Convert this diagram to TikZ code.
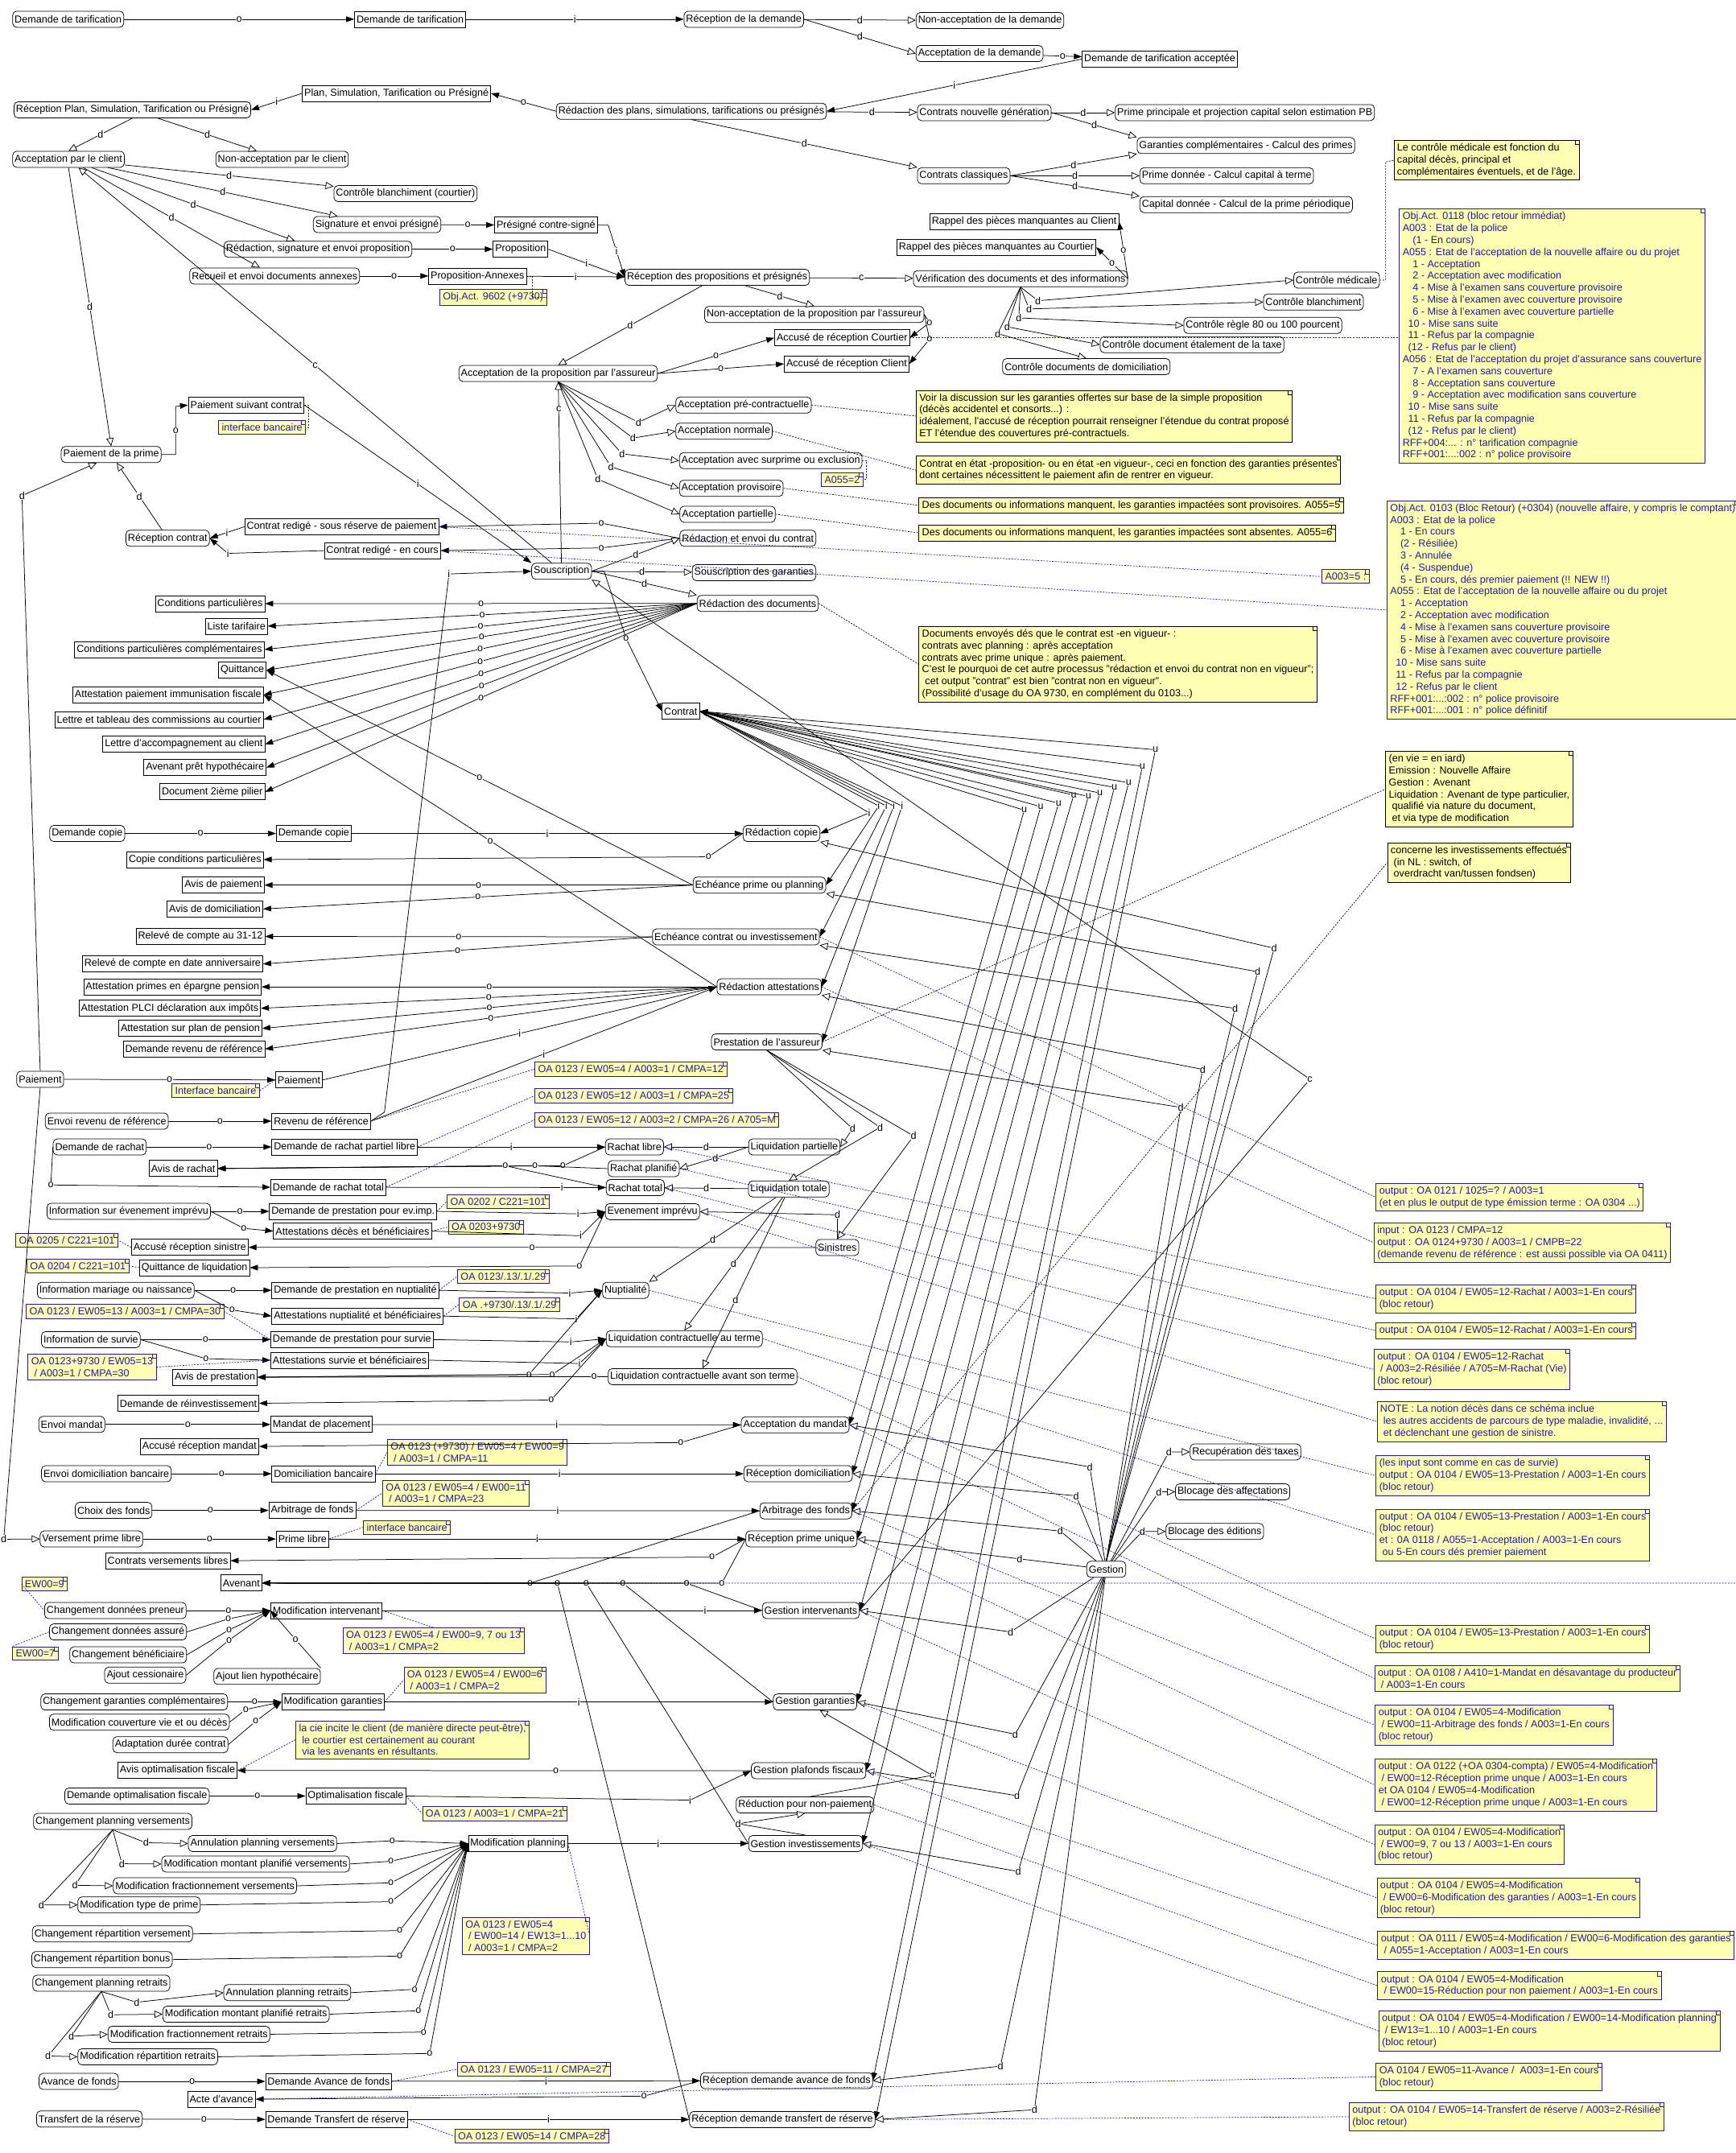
\documentclass[tikz,border=0pt]{standalone}
\usepackage{fontspec}
\setmainfont{Liberation Sans}
\usetikzlibrary{arrows.meta}
\definecolor{notey}{HTML}{FFFFB4}
\definecolor{noteb}{HTML}{1E1E9C}
\definecolor{linkb}{HTML}{1818B8}
\newcommand\ia{\hspace*{1em}}
\newcommand\ib{\hspace*{0.55em}}
\newcommand\ic{\hspace*{0.3em}}

\begin{document}
\begin{tikzpicture}[x=1.7065pt,y=-1.7065pt,line width=0.75pt,
  font=\fontsize{12.6}{14.8}\selectfont,
  proc/.style={draw,rounded corners=5pt,fill=white,inner xsep=2.5pt,inner ysep=0pt,minimum height=20pt,anchor=west},
  docu/.style={draw,fill=white,inner xsep=2.5pt,inner ysep=0pt,minimum height=20pt,anchor=west},
  docr/.style={docu,anchor=east},
  bluenote/.style={draw=noteb,fill=notey,text=noteb,align=left,anchor=north west,inner xsep=4pt,inner ysep=4pt,
    path picture={\draw[noteb,line width=0.6pt] ([xshift=-5pt]path picture bounding box.north east) -- ++(0,-5pt) -- ++(5pt,0);}},
  blacknote/.style={draw=black,fill=notey,text=black,align=left,anchor=north west,inner xsep=4pt,inner ysep=4pt,
    path picture={\draw[line width=0.6pt] ([xshift=-5pt]path picture bounding box.north east) -- ++(0,-5pt) -- ++(5pt,0);}},
  oflow/.style={-{Triangle[length=10pt,width=7pt]}},
  uflow/.style={{Triangle[length=10pt,width=7pt]}-{Triangle[length=10pt,width=7pt]}},
  dflow/.style={-{Triangle[open,length=10pt,width=9pt,fill=white]}},
  blink/.style={linkb,dash pattern=on 2pt off 1.6pt,line width=0.7pt},
  klink/.style={black,dash pattern=on 2pt off 1.6pt,line width=0.7pt},
  lbl/.style={fill=white,inner sep=0.4pt}]
  \path[use as bounding box,fill=white] (0,0) rectangle (1264,1568);

  \node[proc] (dtA) at (9,14) {Demande de tarification};
  \node[docu] (dtB) at (258,14) {Demande de tarification};
  \node[proc] (recdem) at (498,14) {Réception de la demande};
  \node[proc] (nonaccdem) at (667,15) {Non-acceptation de la demande};
  \node[proc] (accdem) at (667,39) {Acceptation de la demande};
  \node[docu] (dtacc) at (788,43) {Demande de tarification acceptée};
  \node[docu] (plan) at (220,68) {Plan, Simulation, Tarification ou Présigné};
  \node[proc] (recplan) at (10,80) {Réception Plan, Simulation, Tarification ou Présigné};
  \node[proc] (redplans) at (405,81) {Rédaction des plans, simulations, tarifications ou présignés};
  \node[proc] (cng) at (668,82) {Contrats nouvelle génération};
  \node[proc] (primepp) at (812,82) {Prime principale et projection capital selon estimation PB};
  \node[proc] (garcomp) at (828,106) {Garanties complémentaires - Calcul des primes};
  \node[proc] (ccl) at (668,128) {Contrats classiques};
  \node[proc] (primed) at (830,128) {Prime donnée - Calcul capital à terme};
  \node[proc] (capd) at (830,149) {Capital donnée - Calcul de la prime périodique};
  \node[proc] (acccli) at (9,116) {Acceptation par le client};
  \node[proc] (nonacccli) at (157,116) {Non-acceptation par le client};
  \node[proc] (ctrlbl) at (243,141) {Contrôle blanchiment (courtier)};
  \node[proc] (sigpres) at (228,163.5) {Signature et envoi présigné};
  \node[docu] (prescs) at (360,164) {Présigné contre-signé};
  \node[proc] (redsig) at (163,181.5) {Rédaction, signature et envoi proposition};
  \node[docu] (prop) at (359,181.5) {Proposition};
  \node[proc] (recueil) at (138,201) {Recueil et envoi documents annexes};
  \node[docu] (propann) at (312,201) {Proposition-Annexes};
  \node[bluenote] (n9602) at (320,210.5) {Obj.Act. 9602 (+9730)};
  \node[proc] (recprops) at (455,202) {Réception des propositions et présignés};
  \node[proc] (verif) at (665,203) {Vérification des documents et des informations};
  \node[docu] (rappcli) at (677,161.5) {Rappel des pièces manquantes au Client};
  \node[docu] (rappcour) at (653,180) {Rappel des pièces manquantes au Courtier};
  \node[proc] (nonaccass) at (513,229) {Non-acceptation de la proposition par l'assureur};
  \node[docu] (arcourt) at (564,246) {Accusé de réception Courtier};
  \node[docu] (arcli) at (571,265) {Accusé de réception Client};
  \node[proc] (accass) at (334,272) {Acceptation de la proposition par l'assureur};
  \node[proc] (ctrlmed) at (942,204) {Contrôle médicale};
  \node[proc] (ctrlbl2) at (920,220) {Contrôle blanchiment};
  \node[proc] (ctrl80) at (862,237) {Contrôle règle 80 ou 100 pourcent};
  \node[proc] (ctrltaxe) at (801,251) {Contrôle document étalement de la taxe};
  \node[proc] (ctrldom) at (730,267) {Contrôle documents de domiciliation};
  \node[blacknote] (nmed) at (1015,102) {Le contrôle médicale est fonction du\\capital décès, principal et\\complémentaires éventuels, et de l'âge.};
  \node[bluenote] (n0118) at (1019,152) {Obj.Act. 0118 (bloc retour immédiat)\\A003 : Etat de la police\\\ia(1 - En cours)\\A055 : Etat de l'acceptation de la nouvelle affaire ou du projet\\\ia 1 - Acceptation\\\ia 2 - Acceptation avec modification\\\ia 4 - Mise à l'examen sans couverture provisoire\\\ia 5 - Mise à l'examen avec couverture provisoire\\\ia 6 - Mise à l'examen avec couverture partielle\\\ib 10 - Mise sans suite\\\ib 11 - Refus par la compagnie\\\ib(12 - Refus par le client)\\A056 : Etat de l'acceptation du projet d'assurance sans couverture\\\ia 7 - A l'examen sans couverture\\\ia 8 - Acceptation sans couverture\\\ia 9 - Acceptation avec modification sans couverture\\\ib 10 - Mise sans suite\\\ib 11 - Refus par la compagnie\\\ib(12 - Refus par le client)\\RFF+004:... : n° tarification compagnie\\RFF+001:...:002 : n° police provisoire};
  \node[proc] (accprec) at (492,295) {Acceptation pré-contractuelle};
  \node[proc] (accnorm) at (492,314) {Acceptation normale};
  \node[proc] (accsurp) at (494.6,335.5) {Acceptation avec surprime ou exclusion};
  \node[proc] (accprov) at (494.6,355.6) {Acceptation provisoire};
  \node[proc] (accpart) at (495,374.5) {Acceptation partielle};
  \node[bluenote] (a0552) at (598,344) {A055=2};
  \node[blacknote] (nvoir) at (667,284) {Voir la discussion sur les garanties offertes sur base de la simple proposition\\(décès accidentel et consorts...) :\\idéalement, l'accusé de réception pourrait renseigner l'étendue du contrat proposé\\ET l'étendue des couvertures pré-contractuels.};
  \node[blacknote] (ncontrat) at (667,332) {Contrat en état -proposition- ou en état -en vigueur-, ceci en fonction des garanties présentes\\dont certaines nécessittent le paiement afin de rentrer en vigueur.};
  \node[blacknote] (nprov) at (669,362) {Des documents ou informations manquent, les garanties impactées sont provisoires. A055=5};
  \node[blacknote] (nabs) at (669,382) {Des documents ou informations manquent, les garanties impactées sont absentes. A055=6};

  \node[proc] (paiprime) at (44.4,331) {Paiement de la prime};
  \node[docu] (paisuiv) at (137,295) {Paiement suivant contrat};
  \node[bluenote] (ib1) at (159,306) {interface bancaire};
  \node[proc] (reccontrat) at (91.5,392) {Réception contrat};
  \node[docu] (crsous) at (178,383.6) {Contrat redigé - sous réserve de paiement};
  \node[docu] (crcours) at (236,401) {Contrat redigé - en cours};
  \node[proc] (souscr) at (387,416) {Souscription};
  \node[proc] (redenv) at (495,392) {Rédaction et envoi du contrat};
  \node[proc] (sousgar) at (504,417) {Souscription des garanties};
  \node[proc] (reddocs) at (507.5,439.5) {Rédaction des documents};
  \node[docu] (contrat) at (482,518) {Contrat};
  \node[bluenote] (a0035) at (962.6,414.7) {A003=5 :};
  \node[bluenote] (n0103) at (1010,364.5) {Obj.Act. 0103 (Bloc Retour) (+0304) (nouvelle affaire, y compris le comptant)\\A003 : Etat de la police\\\ia 1 - En cours\\\ia(2 - Résiliée)\\\ia 3 - Annulée\\\ia(4 - Suspendue)\\\ia 5 - En cours, dés premier paiement (!! NEW !!)\\A055 : Etat de l'acceptation de la nouvelle affaire ou du projet\\\ia 1 - Acceptation\\\ia 2 - Acceptation avec modification\\\ia 4 - Mise à l'examen sans couverture provisoire\\\ia 5 - Mise à l'examen avec couverture provisoire\\\ia 6 - Mise à l'examen avec couverture partielle\\\ib 10 - Mise sans suite\\\ib 11 - Refus par la compagnie\\\ib 12 - Refus par le client\\RFF+001:...:002 : n° police provisoire\\RFF+001:...:001 : n° police définitif};
  \node[blacknote] (ndocs) at (669,456) {Documents envoyés dés que le contrat est -en vigueur- :\\contrats avec planning : après acceptation\\contrats avec prime unique : après paiement.\\C'est le pourquoi de cet autre processus "rédaction et envoi du contrat non en vigueur";\\\ic cet output "contrat" est bien "contrat non en vigueur".\\(Possibilité d'usage du OA 9730, en complément du 0103...)};

  \node[docr] (condpart) at (193,439.6) {Conditions particulières};
  \node[docr] (listetar) at (195,456) {Liste tarifaire};
  \node[docr] (condcomp) at (192.6,473) {Conditions particulières complémentaires};
  \node[docr] (quitt) at (194,488) {Quittance};
  \node[docr] (attimmu) at (192,506) {Attestation paiement immunisation fiscale};
  \node[docr] (lettrecom) at (192,524) {Lettre et tableau des commissions au courtier};
  \node[docr] (lettreacc) at (193,542) {Lettre d'accompagnement au client};
  \node[docr] (avpret) at (194,559) {Avenant prêt hypothécaire};
  \node[docr] (doc2p) at (193,576.7) {Document 2ième pilier};
  \node[proc] (dcopA) at (36,607) {Demande copie};
  \node[docu] (dcopB) at (201,607) {Demande copie};
  \node[proc] (redcopie) at (541,607) {Rédaction copie};
  \node[docr] (copiecp) at (192,626) {Copie conditions particulières};
  \node[docr] (avispai) at (192.6,644.6) {Avis de paiement};
  \node[docr] (avisdom) at (191.6,662) {Avis de domiciliation};
  \node[docr] (rel3112) at (193,682) {Relevé de compte au 31-12};
  \node[docr] (relanniv) at (191.6,702) {Relevé de compte en date anniversaire};
  \node[docr] (attepargne) at (190.5,718.7) {Attestation primes en épargne pension};
  \node[docr] (attplci) at (190,734.3) {Attestation PLCI déclaration aux impôts};
  \node[docr] (attplan) at (191,749) {Attestation sur plan de pension};
  \node[docr] (demrevref) at (193,764) {Demande revenu de référence};
  \node[proc] (echprime) at (504.6,644.6) {Echéance prime ou planning};
  \node[proc] (echcontrat) at (475,682.3) {Echéance contrat ou investissement};
  \node[proc] (redatt) at (522,718.7) {Rédaction attestations};
  \node[proc] (prest) at (518,758.8) {Prestation de l'assureur};
  \node[blacknote] (nvie) at (1009,547) {(en vie = en iard)\\Emission : Nouvelle Affaire\\Gestion : Avenant\\Liquidation : Avenant de type particulier,\\\ic qualifié via nature du document,\\\ic et via type de modification};
  \node[blacknote] (ninv) at (1010.3,613.5) {concerne les investissements effectués\\\ic (in NL : switch, of\\\ic overdracht van/tussen fondsen)};

  \node[proc] (paiement) at (12,786) {Paiement};
  \node[docu] (paiementr) at (200.5,786.5) {Paiement};
  \node[bluenote] (ib2) at (125,789) {Interface bancaire};
  \node[proc] (envrevref) at (32.8,816.5) {Envoi revenu de référence};
  \node[docu] (revref) at (197.8,816.5) {Revenu de référence};
  \node[bluenote] (oaA) at (389.3,773.3) {OA 0123 / EW05=4 / A003=1 / CMPA=12};
  \node[bluenote] (oaB) at (389.3,792.7) {OA 0123 / EW05=12 / A003=1 / CMPA=25};
  \node[bluenote] (oaC) at (389.3,810.3) {OA 0123 / EW05=12 / A003=2 / CMPA=26 / A705=M};
  \node[proc] (demrachat) at (38.5,835.3) {Demande de rachat};
  \node[docu] (demrpl) at (197.8,835.3) {Demande de rachat partiel libre};
  \node[docu] (avisrachat) at (108.4,851) {Avis de rachat};
  \node[docu] (demrtot) at (197,864.6) {Demande de rachat total};
  \node[proc] (infoevt) at (34,882.2) {Information sur évenement imprévu};
  \node[docu] (dempevt) at (196,882.2) {Demande de prestation pour ev.imp.};
  \node[bluenote] (oa0202) at (325.5,869.8) {OA 0202 / C221=101};
  \node[docu] (attdeces) at (199,896.6) {Attestations décès et bénéficiaires};
  \node[bluenote] (oa0203) at (326.4,888.4) {OA 0203+9730};
  \node[bluenote] (oa0205) at (11.3,898) {OA 0205 / C221=101};
  \node[docu] (accsin) at (95.5,908.4) {Accusé réception sinistre};
  \node[bluenote] (oa0204) at (19.4,916.7) {OA 0204 / C221=101};
  \node[docu] (quittliq) at (101.4,923.2) {Quittance de liquidation};
  \node[proc] (infomar) at (27,939.7) {Information mariage ou naissance};
  \node[docu] (dempnup) at (197.8,939.7) {Demande de prestation en nuptialité};
  \node[bluenote] (oa0123a) at (333,924.2) {OA 0123/.13/.1/.29};
  \node[bluenote] (oa0123b) at (18.9,949.8) {OA 0123 / EW05=13 / A003=1 / CMPA=30};
  \node[docu] (attnup) at (197.8,958.5) {Attestations nuptialité et bénéficiaires};
  \node[bluenote] (oa9730) at (334.4,944.6) {OA .+9730/.13/.1/.29};
  \node[proc] (infosurv) at (30,975.6) {Information de survie};
  \node[docu] (dempsurv) at (197,975.6) {Demande de prestation pour survie};
  \node[docu] (attsurv) at (197,990.6) {Attestations survie et bénéficiaires};
  \node[bluenote] (oa0123c) at (20.2,986) {OA 0123+9730 / EW05=13\\\ic/ A003=1 / CMPA=30};
  \node[docu] (avisprest) at (125.6,1003) {Avis de prestation};
  \node[docu] (demreinv) at (85.6,1022) {Demande de réinvestissement};
  \node[proc] (envmandat) at (28,1037.4) {Envoi mandat};
  \node[docu] (mandat) at (197,1037.4) {Mandat de placement};
  \node[docu] (arman) at (102,1053.4) {Accusé réception mandat};
  \node[bluenote] (oa0123d) at (282,1048.2) {OA 0123 (+9730) / EW05=4 / EW00=9\\\ic/ A003=1 / CMPA=11};
  \node[proc] (envdom) at (30,1073.3) {Envoi domiciliation bancaire};
  \node[docu] (domban) at (197.8,1073.3) {Domiciliation bancaire};
  \node[bluenote] (oa0123e) at (278.5,1077.7) {OA 0123 / EW05=4 / EW00=11\\\ic/ A003=1 / CMPA=23};
  \node[proc] (choixf) at (54.6,1100) {Choix des fonds};
  \node[docu] (arbf) at (195.6,1100) {Arbitrage de fonds};
  \node[proc] (versprime) at (29,1120.8) {Versement prime libre};
  \node[docu] (primelib) at (201,1120.8) {Prime libre};
  \node[bluenote] (ib3) at (264.5,1107) {interface bancaire};
  \node[docu] (contvers) at (76.7,1136.6) {Contrats versements libres};
  \node[docu] (avenant) at (160.6,1152.9) {Avenant};
  \node[bluenote] (ew009) at (15.6,1148.4) {EW00=9};
  \node[proc] (chpreneur) at (32.3,1172.9) {Changement données preneur};
  \node[docu] (modint) at (197,1172.9) {Modification intervenant};
  \node[proc] (chassure) at (35.8,1188.5) {Changement données assuré};
  \node[bluenote] (ew007) at (8.9,1199) {EW00=7};
  \node[proc] (chbenef) at (50.6,1205.2) {Changement bénéficiaire};
  \node[proc] (ajcess) at (76,1220) {Ajout cessionaire};
  \node[proc] (ajlien) at (155.5,1220.9) {Ajout lien hypothécaire};
  \node[bluenote] (oaE) at (249.6,1185.3) {OA 0123 / EW05=4 / EW00=9, 7 ou 13\\\ic/ A003=1 / CMPA=2};
  \node[proc] (chgarcomp) at (29.6,1239.5) {Changement garanties complémentaires};
  \node[docu] (modgar) at (205,1239.5) {Modification garanties};
  \node[bluenote] (oaF) at (294,1213.9) {OA 0123 / EW05=4 / EW00=6\\\ic/ A003=1 / CMPA=2};
  \node[proc] (modcouv) at (35.8,1254.2) {Modification couverture vie et ou décès};
  \node[proc] (adaptduree) at (82,1270.6) {Adaptation durée contrat};
  \node[bluenote] (ncie) at (215.2,1253) {la cie incite le client (de manière directe peut-être),\\\ic le courtier est certainement au courant\\\ic via les avenants en résultants.};
  \node[docu] (avisopt) at (85.6,1289.4) {Avis optimalisation fiscale};
  \node[proc] (demopt) at (47,1308) {Demande optimalisation fiscale};
  \node[docu] (optfisc) at (222.5,1308) {Optimalisation fiscale};
  \node[bluenote] (oaG) at (307.5,1315.5) {OA 0123 / A003=1 / CMPA=21};
  \node[proc] (chplanv) at (24.2,1326.5) {Changement planning versements};
  \node[proc] (annplanv) at (137,1342.6) {Annulation planning versements};
  \node[docu] (modplan) at (340.9,1342.6) {Modification planning};
  \node[proc] (modmontv) at (117.6,1357.5) {Modification montant planifié versements};
  \node[proc] (modfracv) at (82.3,1373.4) {Modification fractionnement versements};
  \node[proc] (modtype) at (56.5,1387.3) {Modification type de prime};
  \node[proc] (chrepv) at (23.4,1408.4) {Changement répartition versement};
  \node[proc] (chrepb) at (22.9,1427.1) {Changement répartition bonus};
  \node[proc] (chplanr) at (23.7,1444.3) {Changement planning retraits};
  \node[proc] (annplanr) at (162.8,1451.2) {Annulation planning retraits};
  \node[proc] (modmontr) at (118.4,1466.9) {Modification montant planifié retraits};
  \node[proc] (modfracr) at (78.5,1481.5) {Modification fractionnement retraits};
  \node[proc] (modrepr) at (56.5,1497.9) {Modification répartition retraits};
  \node[bluenote] (oaH) at (336.4,1396) {OA 0123 / EW05=4\\\ic/ EW00=14 / EW13=1...10\\\ic/ A003=1 / CMPA=2};
  \node[proc] (avfonds) at (28.2,1515.8) {Avance de fonds};
  \node[docu] (demavance) at (193.2,1515.8) {Demande Avance de fonds};
  \node[bluenote] (oaI) at (332.8,1501.7) {OA 0123 / EW05=11 / CMPA=27};
  \node[docu] (acteav) at (136.4,1528.8) {Acte d'avance};
  \node[proc] (transres) at (26.4,1543.2) {Transfert de la réserve};
  \node[docu] (demtrans) at (193.2,1543.6) {Demande Transfert de réserve};
  \node[bluenote] (oaJ) at (331,1550.5) {OA 0123 / EW05=14 / CMPA=28};

  \node[proc] (rachlib) at (440.7,835.3) {Rachat libre};
  \node[proc] (liqpart) at (545,835.3) {Liquidation partielle};
  \node[proc] (rachplan) at (442.7,851.1) {Rachat planifié};
  \node[proc] (rachtot) at (441.3,864.9) {Rachat total};
  \node[proc] (liqtot) at (544.9,865.9) {Liquidation totale};
  \node[proc] (evtimp) at (440.7,882.4) {Evenement imprévu};
  \node[proc] (sinistres) at (594,908.5) {Sinistres};
  \node[proc] (nuptial) at (438.6,939.7) {Nuptialité};
  \node[proc] (liqterme) at (441.3,975) {Liquidation contractuelle au terme};
  \node[proc] (liqavant) at (442.7,1002.6) {Liquidation contractuelle avant son terme};
  \node[proc] (accman) at (539.7,1037.7) {Acceptation du mandat};
  \node[proc] (recdom) at (541.6,1073.3) {Réception domiciliation};
  \node[proc] (arbdes) at (553.2,1100.3) {Arbitrage des fonds};
  \node[proc] (recprime) at (543,1120.8) {Réception prime unique};
  \node[proc] (gestion) at (791.3,1142.9) {Gestion};
  \node[proc] (gestint) at (555,1172.9) {Gestion intervenants};
  \node[proc] (gestgar) at (563,1239.5) {Gestion garanties};
  \node[proc] (gestplaf) at (547,1289.6) {Gestion plafonds fiscaux};
  \node[proc] (reduc) at (536,1314.5) {Réduction pour non-paiement};
  \node[proc] (gestinv) at (545,1342.6) {Gestion investissements};
  \node[proc] (recavance) at (510,1515.3) {Réception demande avance de fonds};
  \node[proc] (rectrans) at (502,1543.6) {Réception demande transfert de réserve};
  \node[proc] (recup) at (866.6,1057.4) {Recupération des taxes};
  \node[proc] (blocaff) at (855.9,1086.5) {Blocage des affectations};
  \node[proc] (blocedit) at (849,1115.3) {Blocage des éditions};

  \node[bluenote] (o184) at (1002,861.6) {output : OA 0121 / 1025=? / A003=1\\(et en plus le output de type émission terme : OA 0304 ...)};
  \node[bluenote] (o185) at (1000.6,890.4) {input : OA 0123 / CMPA=12\\output : OA 0124+9730 / A003=1 / CMPB=22\\(demande revenu de référence : est aussi possible via OA 0411)};
  \node[bluenote] (o186) at (1002,935.5) {output : OA 0104 / EW05=12-Rachat / A003=1-En cours\\(bloc retour)};
  \node[bluenote] (o187) at (1002,963) {output : OA 0104 / EW05=12-Rachat / A003=1-En cours};
  \node[bluenote] (o188) at (1000.6,982.6) {output : OA 0104 / EW05=12-Rachat\\\ic/ A003=2-Résiliée / A705=M-Rachat (Vie)\\(bloc retour)};
  \node[bluenote] (o189) at (1002.7,1020.6) {NOTE : La notion décès dans ce schéma inclue\\\ic les autres accidents de parcours de type maladie, invalidité, ...\\\ic et déclenchant une gestion de sinistre.};
  \node[bluenote] (o190) at (1002,1060) {(les input sont comme en cas de survie)\\output : OA 0104 / EW05=13-Prestation / A003=1-En cours\\(bloc retour)};
  \node[bluenote] (o191) at (1002,1098.8) {output : OA 0104 / EW05=13-Prestation / A003=1-En cours\\(bloc retour)\\et : 0A 0118 / A055=1-Acceptation / A003=1-En cours\\\ic ou 5-En cours dés premier paiement};
  \node[bluenote] (o192) at (1002,1183.3) {output : OA 0104 / EW05=13-Prestation / A003=1-En cours\\(bloc retour)};
  \node[bluenote] (o193) at (1001,1212.7) {output : OA 0108 / A410=1-Mandat en désavantage du producteur\\\ic/ A003=1-En cours};
  \node[bluenote] (o194) at (1001.4,1241.7) {output : OA 0104 / EW05=4-Modification\\\ic/ EW00=11-Arbitrage des fonds / A003=1-En cours\\(bloc retour)};
  \node[bluenote] (o195) at (1001.4,1281) {output : OA 0122 (+OA 0304-compta) / EW05=4-Modification\\\ic/ EW00=12-Réception prime unque / A003=1-En cours\\et OA 0104 / EW05=4-Modification\\\ic/ EW00=12-Réception prime unque / A003=1-En cours};
  \node[bluenote] (o196) at (1001,1328.7) {output : OA 0104 / EW05=4-Modification\\\ic/ EW00=9, 7 ou 13 / A003=1-En cours\\(bloc retour)};
  \node[bluenote] (o197) at (1002.7,1367.5) {output : OA 0104 / EW05=4-Modification\\\ic/ EW00=6-Modification des garanties / A003=1-En cours\\(bloc retour)};
  \node[bluenote] (o198) at (1003.2,1406.4) {output : OA 0111 / EW05=4-Modification / EW00=6-Modification des garanties\\\ic/ A055=1-Acceptation / A003=1-En cours};
  \node[bluenote] (o199) at (1003.2,1435.8) {output : OA 0104 / EW05=4-Modification\\\ic/ EW00=15-Réduction pour non paiement / A003=1-En cours};
  \node[bluenote] (o200) at (1004,1464.4) {output : OA 0104 / EW05=4-Modification / EW00=14-Modification planning\\\ic/ EW13=1...10 / A003=1-En cours\\(bloc retour)};
  \node[bluenote] (o201) at (1002,1502.2) {OA 0104 / EW05=11-Avance /\ \ A003=1-En cours\\(bloc retour)};
  \node[bluenote] (o202) at (982.4,1531.2) {output : OA 0104 / EW05=14-Transfert de réserve / A003=2-Résiliée\\(bloc retour)};
  \coordinate (avend) at (1264,1153);

  \draw[oflow] (dtA) -- node[lbl]{o} (dtB);
  \draw[oflow] (dtB) -- node[lbl]{i} (recdem);
  \draw[dflow] (recdem) -- node[lbl]{d} (nonaccdem);
  \draw[dflow] (recdem.east) -- node[lbl]{d} (accdem.west);
  \draw[oflow] (accdem) -- node[lbl]{o} (dtacc);
  \draw[oflow] (dtacc.west) -- node[lbl]{i} (redplans.east);
  \draw[oflow] (redplans.west) -- node[lbl]{o} (plan.east);
  \draw[oflow] (plan.west) -- node[lbl]{i} (recplan.east);
  \draw[dflow] (redplans) -- node[lbl]{d} (cng);
  \draw[dflow] (redplans.south) -- node[lbl]{d} (ccl.north west);
  \draw[dflow] (cng) -- node[lbl]{d} (primepp);
  \draw[dflow] (cng.east) -- node[lbl]{d} (garcomp.north west);
  \draw[dflow] (ccl.east) -- node[lbl]{d} (garcomp.south west);
  \draw[dflow] (ccl) -- node[lbl]{d} (primed);
  \draw[dflow] (ccl.east) -- node[lbl]{d} (capd.north west);
  \draw[dflow] (recplan.south) -- node[lbl]{d} (acccli.north);
  \draw[dflow] (recplan) -- node[lbl]{d} (nonacccli);
  \draw[dflow] (acccli) -- node[lbl]{d} (ctrlbl);
  \draw[dflow] (acccli) -- node[lbl]{d} (sigpres);
  \draw[dflow] (acccli) -- node[lbl]{d} (redsig);
  \draw[dflow] (acccli) -- node[lbl]{d} (recueil);
  \draw[dflow] (acccli.south) -- node[lbl]{d} (paiprime.north);
  \draw[oflow] (sigpres) -- node[lbl]{o} (prescs);
  \draw[oflow] (redsig) -- node[lbl]{o} (prop);
  \draw[oflow] (recueil) -- node[lbl]{o} (propann);
  \draw[blink] (propann.east) -- ++(4,0) |- (n9602.east);
  \draw[oflow] (prescs.east) -- (443,164) -- node[lbl]{i} (recprops.west);
  \draw[oflow] (prop.east) -- node[lbl]{i} (recprops.west);
  \draw[oflow] (propann) -- node[lbl]{i} (recprops);
  \draw[dflow] (recprops) -- node[lbl]{c} (verif);
  \draw[oflow] (verif.east) -- node[lbl]{o} (rappcli.east);
  \draw[oflow] (verif.east) -- node[lbl]{o} (rappcour.east);
  \draw[dflow] (recprops) -- node[lbl]{d} (nonaccass.north);
  \draw[dflow] (recprops) -- node[lbl]{d} (accass.north);
  \draw[oflow] (accass.east) -- node[lbl]{o} (arcourt.west);
  \draw[oflow] (accass.east) -- node[lbl]{o} (arcli.west);
  \draw[oflow] (nonaccass.east) -- (677,235) node[lbl]{o} -- (arcourt.east);
  \draw[oflow] (nonaccass.east) -- (677,247) node[lbl]{o} -- (arcli.east);
  \draw[blink] (arcourt.east) -- (n0118.west |- arcourt.east);
  \draw[dflow] (verif.south) -- (756,219) node[lbl]{d} -- (ctrlmed.west);
  \draw[dflow] (verif.south) -- (749.5,225) node[lbl]{d} -- (ctrlbl2.west);
  \draw[dflow] (verif.south) -- (742,231.5) node[lbl]{d} -- (ctrl80.west);
  \draw[dflow] (verif.south) -- (733.5,238) node[lbl]{d} -- (ctrltaxe.west);
  \draw[dflow] (verif.south) -- (726.6,243) node[lbl]{d} -- (ctrldom.north);
  \draw[klink] (ctrlmed.east) -- (1009,204) -- (1009,118) -- (nmed.west);
  \draw[dflow] (accass.south) -- (465,307.5) node[lbl]{d} -- (accprec.west);
  \draw[dflow] (accass.south) -- (461,319) node[lbl]{d} -- (accnorm.west);
  \draw[dflow] (accass.south) -- (453,330.5) node[lbl]{d} -- (accsurp.west);
  \draw[dflow] (accass.south) -- (445,340) node[lbl]{d} -- (accprov.west);
  \draw[dflow] (accass.south) -- (435.5,349) node[lbl]{d} -- (accpart.west);
  \draw[klink] (accprec.east) -- (nvoir.west);
  \draw[klink] (accnorm.east) -- (ncontrat.west);
  \draw[blink] (accsurp.east) -- ++(3,0) |- (a0552.east);
  \draw[klink] (accprov.east) -- (nprov.west);
  \draw[klink] (accpart.east) -- (nabs.west);
  \draw[dflow] (souscr) -- node[lbl,pos=0.85]{c} (accass);
  \draw[dflow] (souscr) -- node[lbl]{c} (acccli);

  \draw[oflow] (paiprime.east) -- (128,331) -- node[lbl]{o} (128,296) -- (paisuiv.west);
  \draw[blink] (paisuiv.east) -- ++(3,0) |- (ib1.east);
  \draw[oflow] (paisuiv.east) -- node[lbl]{i} (souscr.north west);
  \draw[dflow] (reccontrat) -- node[lbl]{d} (paiprime);
  \draw[dflow] (paiement.north) -- (16,361) node[lbl]{d} -- (paiprime.-150);
  \draw[dflow] (paiement.south) -- (2.7,1121) node[lbl]{d} -- (versprime.west);
  \draw[oflow] (redenv.west) -- (438,381) node[lbl]{o} -- (crsous.east);
  \draw[oflow] (redenv.west) -- (438,399) node[lbl]{o} -- (crcours.east);
  \draw[oflow] (crsous.west) -- node[lbl]{i} (reccontrat.east);
  \draw[oflow] (crcours.west) -- (166,403) node[lbl]{i} -- (reccontrat.east);
  \draw[blink] (crsous.east) -- (a0035.west);
  \draw[blink] (crcours.east) -- (n0103.west);
  \draw[dflow] (souscr.east) -- node[lbl]{d} (redenv.west);
  \draw[dflow] (souscr) -- node[lbl]{d} (sousgar);
  \draw[dflow] (souscr.east) -- node[lbl]{d} (reddocs.north west);
  \draw[oflow] (souscr.east) -- (440,416) -- (456,465) node[lbl]{o} -- (contrat.west);
  \draw[klink] (reddocs.east) -- (ndocs.west);
  \draw[oflow] (reddocs.west) -- node[lbl]{o} (condpart.east);
  \draw[oflow] (reddocs.west) -- node[lbl]{o} (listetar.east);
  \draw[oflow] (reddocs.west) -- node[lbl]{o} (condcomp.east);
  \draw[oflow] (reddocs.west) -- node[lbl]{o} (quitt.east);
  \draw[oflow] (reddocs.west) -- node[lbl]{o} (attimmu.east);
  \draw[oflow] (reddocs.west) -- node[lbl]{o} (lettrecom.east);
  \draw[oflow] (reddocs.west) -- node[lbl]{o} (lettreacc.east);
  \draw[oflow] (reddocs.west) -- node[lbl]{o} (avpret.east);
  \draw[oflow] (reddocs.west) -- node[lbl]{o} (doc2p.east);
  \draw[oflow] (echprime.west) -- node[lbl]{o} (quitt.east);
  \draw[oflow] (redatt.west) -- node[lbl]{o} (attimmu.east);

  \draw[oflow] (dcopA) -- node[lbl]{o} (dcopB);
  \draw[oflow] (dcopB) -- node[lbl]{i} (redcopie);
  \draw[oflow] (redcopie.west) -- (516,624) node[lbl]{o} -- (copiecp.east);
  \draw[oflow] (echprime.west) -- node[lbl]{o} (avispai.east);
  \draw[oflow] (echprime.west) -- node[lbl]{o} (avisdom.east);
  \draw[oflow] (echcontrat.west) -- node[lbl]{o} (rel3112.east);
  \draw[oflow] (echcontrat.west) -- node[lbl]{o} (relanniv.east);
  \draw[oflow] (redatt.west) -- node[lbl]{o} (attepargne.east);
  \draw[oflow] (redatt.west) -- node[lbl]{o} (attplci.east);
  \draw[oflow] (redatt.west) -- node[lbl]{o} (attplan.east);
  \draw[oflow] (redatt.west) -- node[lbl]{o} (demrevref.east);
  \draw[oflow] (paiementr.east) -- node[lbl]{i} (redatt.west);
  \draw[oflow] (revref.east) -- node[lbl]{i} (redatt.west);
  \draw[oflow] (revref.east) -- (280,810) -- (327,418) node[lbl]{i} -- (souscr.west);
  \draw[blink] (ib2.east) -- (paiementr.west);
  \draw[oflow] (paiement) -- node[lbl]{o} (paiementr);
  \draw[oflow] (envrevref) -- node[lbl]{o} (revref);
  \draw[blink] (revref.east) -- (oaA.west);
  \draw[oflow] (demrachat) -- node[lbl]{o} (demrpl);
  \draw[oflow] (demrachat.west) -- (37,863) node[lbl]{o} -- (demrtot.west);
  \draw[blink] (demrpl.east) -- (oaB.west);
  \draw[blink] (demrtot.east) -- (oaC.west);
  \draw[oflow] (demrpl) -- node[lbl]{i} (rachlib);
  \draw[oflow] (demrtot) -- node[lbl,pos=0.8]{i} (rachtot);
  \draw[oflow] (rachlib.west) -- (410,849) node[lbl]{o} -- (avisrachat.east);
  \draw[oflow] (rachplan.west) -- (389.6,849) node[lbl]{o} -- (avisrachat.east);
  \draw[oflow] (rachtot.west) -- (368,849) node[lbl]{o} -- (avisrachat.east);
  \draw[oflow] (infoevt) -- node[lbl]{o} (dempevt);
  \draw[oflow] (infoevt.east) -- (177.6,894.6) node[lbl]{o} -- (attdeces.west);
  \draw[blink] (dempevt.east) -- (oa0202.west);
  \draw[blink] (attdeces.east) -- (oa0203.west);
  \draw[oflow] (dempevt.east) -- (421,884) node[lbl]{i} -- (evtimp.west);
  \draw[oflow] (attdeces.east) -- (423,900) node[lbl]{i} -- (evtimp.west);
  \draw[oflow] (sinistres.west) -- node[lbl]{o} (accsin.east);
  \draw[blink] (accsin.west) -- (oa0205.east);
  \draw[oflow] (evtimp.west) -- (422,922) node[lbl]{o} -- (quittliq.east);
  \draw[blink] (quittliq.west) -- (oa0204.east);
  \draw[oflow] (infomar) -- node[lbl]{o} (dempnup);
  \draw[oflow] (infomar.east) -- (169,954) node[lbl]{o} -- (attnup.west);
  \draw[blink] (dempnup.east) -- (oa0123a.west);
  \draw[blink] (attnup.east) -- (oa9730.west);
  \draw[oflow] (dempnup.east) -- (415,941.7) node[lbl]{i} -- (nuptial.west);
  \draw[oflow] (attnup.east) -- (419.7,960.5) node[lbl]{i} -- (nuptial.west);
  \draw[oflow] (infosurv) -- node[lbl]{o} (dempsurv);
  \draw[oflow] (infosurv.east) -- (150,989.5) node[lbl]{o} -- (attsurv.west);
  \draw[blink] (oa0123b.east) -- (dempsurv.west);
  \draw[blink] (oa0123c.east) -- (attsurv.west);
  \draw[oflow] (dempsurv.east) -- (415.7,977.3) node[lbl]{i} -- (liqterme.west);
  \draw[oflow] (attsurv.east) -- (422,993) node[lbl]{i} -- (liqterme.west);
  \draw[oflow] (nuptial.west) -- (385.3,1001) node[lbl]{o} -- (avisprest.east);
  \draw[oflow] (liqterme.west) -- (402.2,1001) node[lbl]{o} -- (avisprest.east);
  \draw[oflow] (liqavant.west) -- (432.7,1002.6) node[lbl]{o} -- (avisprest.east);
  \draw[oflow] (liqterme.west) -- (401.4,1019.6) node[lbl]{o} -- (demreinv.east);
  \draw[oflow] (envmandat) -- node[lbl]{o} (mandat);
  \draw[oflow] (mandat) -- node[lbl]{i} (accman);
  \draw[oflow] (accman.west) -- (495.8,1050.6) node[lbl]{o} -- (arman.east);
  \draw[oflow] (envdom) -- node[lbl]{o} (domban);
  \draw[oflow] (domban) -- node[lbl]{i} (recdom);
  \draw[blink] (domban.east) -- (oa0123d.west);
  \draw[oflow] (choixf) -- node[lbl]{o} (arbf);
  \draw[oflow] (arbf) -- node[lbl]{i} (arbdes);
  \draw[blink] (arbf.east) -- (oa0123e.west);
  \draw[oflow] (versprime) -- node[lbl]{o} (primelib);
  \draw[oflow] (primelib) -- node[lbl]{i} (recprime);
  \draw[blink] (primelib.east) -- (ib3.west);
  \draw[oflow] (recprime.west) -- (518.6,1134) node[lbl]{o} -- (contvers.east);
  \draw[blink] (avenant.east) -- (avend);
  \draw[oflow] (arbdes.west) -- (386,1153) node[lbl]{o} -- (avenant.east);
  \draw[oflow] (rectrans.west) -- (406,1153) node[lbl]{o} -- (avenant.east);
  \draw[oflow] (gestinv.west) -- (427,1153) node[lbl]{o} -- (avenant.east);
  \draw[oflow] (gestgar.west) -- (453.6,1153) node[lbl]{o} -- (avenant.east);
  \draw[oflow] (gestint.west) -- (500,1153) node[lbl]{o} -- (avenant.east);
  \draw[oflow] (recprime.west) -- (525.7,1153) node[lbl]{o} -- (avenant.east);

  \draw[oflow] (chpreneur) -- node[lbl]{o} (modint);
  \draw[oflow] (chassure.east) -- (166.3,1179) node[lbl]{o} -- (modint.west);
  \draw[oflow] (chbenef.east) -- (166.8,1187) node[lbl]{o} -- (modint.west);
  \draw[oflow] (ajcess.east) -- (166.8,1194.5) node[lbl]{o} -- (modint.west);
  \draw[oflow] (ajlien.north east) -- (215.2,1194) node[lbl]{o} -- (modint.west);
  \draw[blink] (ew009.west) -- (chpreneur.west);
  \draw[blink] (chassure.west) -- (ew007.north west);
  \draw[oflow] (modint) -- node[lbl,pos=0.85]{i} (gestint);
  \draw[blink] (modint.east) -- (oaE.north);
  \draw[oflow] (chgarcomp) -- node[lbl]{o} (modgar);
  \draw[oflow] (modcouv.east) -- (179,1245) node[lbl]{o} -- (modgar.west);
  \draw[oflow] (adaptduree.east) -- (186.2,1253.6) node[lbl]{o} -- (modgar.west);
  \draw[blink] (modgar.east) -- (oaF.west);
  \draw[oflow] (modgar) -- node[lbl]{i} (gestgar);
  \draw[oflow] (gestplaf) -- node[lbl,pos=0.38]{o} (avisopt);
  \draw[blink] (ncie.west) -- (avisopt.east);
  \draw[oflow] (demopt) -- node[lbl]{o} (optfisc);
  \draw[oflow] (optfisc.east) -- (502.6,1311) node[lbl]{i} -- (gestplaf.west);
  \draw[blink] (optfisc.east) -- (oaG.west);
  \draw[dflow] (chplanv.south) -- (106.3,1342) node[lbl]{d} -- (annplanv.west);
  \draw[dflow] (chplanv.south) -- (88.8,1357.3) node[lbl]{d} -- (modmontv.west);
  \draw[dflow] (chplanv.south) -- (54.6,1373) node[lbl]{d} -- (modfracv.west);
  \draw[dflow] (chplanv.south) -- (30.1,1387.3) node[lbl]{d} -- (modtype.west);
  \draw[dflow] (chplanr.south) -- (99.6,1458.2) node[lbl]{d} -- (annplanr.west);
  \draw[dflow] (chplanr.south) -- (80.7,1467.3) node[lbl]{d} -- (modmontr.west);
  \draw[dflow] (chplanr.south) -- (51.9,1483) node[lbl]{d} -- (modfracr.west);
  \draw[dflow] (chplanr.south) -- (35,1497.3) node[lbl]{d} -- (modrepr.west);
  \draw[oflow] (annplanv.east) -- (285.7,1340.6) node[lbl]{o} -- (modplan.west);
  \draw[oflow] (modmontv.east) -- (284.7,1355.5) node[lbl]{o} -- (modplan.west);
  \draw[oflow] (modfracv.east) -- (284.7,1371.2) node[lbl]{o} -- (modplan.west);
  \draw[oflow] (modtype.east) -- (284.7,1384.9) node[lbl]{o} -- (modplan.west);
  \draw[oflow] (chrepv.east) -- (291.1,1406) node[lbl]{o} -- (modplan.west);
  \draw[oflow] (chrepb.east) -- (291.1,1424.6) node[lbl]{o} -- (modplan.west);
  \draw[oflow] (annplanr.east) -- (301.9,1448.8) node[lbl]{o} -- (modplan.west);
  \draw[oflow] (modmontr.east) -- (304.8,1464.4) node[lbl]{o} -- (modplan.west);
  \draw[oflow] (modfracr.east) -- (308.6,1479.9) node[lbl]{o} -- (modplan.west);
  \draw[oflow] (modrepr.east) -- (312.9,1495.5) node[lbl]{o} -- (modplan.west);
  \draw[blink] (modplan.east) -- (oaH.east);
  \draw[oflow] (modplan) -- node[lbl]{i} (gestinv);
  \draw[oflow] (avfonds) -- node[lbl]{o} (demavance);
  \draw[oflow] (demavance) -- node[lbl]{i} (recavance);
  \draw[blink] (demavance.east) -- (oaI.west);
  \draw[oflow] (recavance.west) -- (469,1526.6) node[lbl]{o} -- (acteav.east);
  \draw[blink] (acteav.east) -- (o201.west);
  \draw[oflow] (transres) -- node[lbl]{o} (demtrans);
  \draw[oflow] (demtrans) -- node[lbl]{i} (rectrans);
  \draw[blink] (demtrans.east) -- (oaJ.west);
  \draw[blink] (rectrans.east) -- (o202.west);

  \draw[dflow] (prest.south) -- (621,822) node[lbl]{d} -- (liqpart.east);
  \draw[dflow] (prest.south) -- (641,821) node[lbl]{d} -- (liqtot.north);
  \draw[dflow] (prest.south) -- (665.4,827.3) node[lbl]{d} -- (sinistres.north);
  \draw[dflow] (liqpart) -- node[lbl]{d} (rachlib);
  \draw[dflow] (liqpart.west) -- (521,843.3) node[lbl]{d} -- (rachplan.east);
  \draw[dflow] (liqtot) -- node[lbl]{d} (rachtot);
  \draw[dflow] (liqtot) -- node[lbl]{d} (nuptial.north east);
  \draw[dflow] (liqtot) -- node[lbl]{d} (liqterme.north);
  \draw[dflow] (liqtot) -- node[lbl,pos=0.6]{d} (liqavant.north);
  \draw[dflow] (sinistres.north) -- (610,884.7) node[lbl]{d} -- (evtimp.east);
  \draw[klink] (prest.east) -- (nvie.west);
  \draw[klink] (arbdes.east) -- (ninv.west);

  \draw[oflow] (contrat.east) -- (633,592) node[lbl]{i} -- (redcopie.east);
  \draw[oflow] (contrat.east) -- (640,587) node[lbl]{i} -- (echprime.east);
  \draw[oflow] (contrat.east) -- (645.5,587) node[lbl]{i} -- (echcontrat.east);
  \draw[oflow] (contrat.east) -- (651,587) node[lbl]{i} -- (redatt.east);
  \draw[oflow] (contrat.east) -- (657,587) node[lbl]{i} -- (prest.east);
  \draw[uflow] (accman.east) -- (746,590) node[lbl]{u} -- (contrat.east);
  \draw[uflow] (recdom.east) -- (758,587.5) node[lbl]{u} -- (contrat.east);
  \draw[uflow] (arbdes.east) -- (771,585) node[lbl]{u} -- (contrat.east);
  \draw[uflow] (recprime.east) -- (782,579) node[lbl]{u} -- (contrat.east);
  \draw[uflow] (gestint.east) -- (792.7,580) node[lbl]{u} -- (contrat.east);
  \draw[uflow] (gestgar.east) -- (801,577.5) node[lbl]{u} -- (contrat.east);
  \draw[uflow] (gestplaf.east) -- (811.6,573.4) node[lbl]{u} -- (contrat.east);
  \draw[uflow] (gestinv.east) -- (822,570) node[lbl]{u} -- (contrat.east);
  \draw[uflow] (recavance.east) -- (832,558) node[lbl]{u} -- (contrat.east);
  \draw[uflow] (rectrans.east) -- (841.5,546) node[lbl]{u} -- (contrat.east);

  \draw[dflow] (gestion.north) -- (928,690.6) node[lbl]{d} -- (redcopie.south east);
  \draw[dflow] (gestion.north) -- (916,707.7) node[lbl]{d} -- (echprime.south east);
  \draw[dflow] (gestion.north) -- (899.5,734.4) node[lbl]{d} -- (echcontrat.south east);
  \draw[dflow] (gestion.north) -- (876,778.8) node[lbl]{d} -- (redatt.south east);
  \draw[dflow] (gestion.north) -- (860,806.5) node[lbl]{d} -- (prest.south east);
  \draw[dflow] (gestion) -- (793.7,1068.3) node[lbl]{d} -- (accman.east);
  \draw[dflow] (gestion) -- (783.8,1089.4) node[lbl]{d} -- (recdom.east);
  \draw[dflow] (gestion) -- (772.2,1115) node[lbl]{d} -- (arbdes.east);
  \draw[dflow] (gestion) -- (742.6,1135.3) node[lbl]{d} -- (recprime.east);
  \draw[dflow] (gestion) -- (736,1188.5) node[lbl]{d} -- (gestint.east);
  \draw[dflow] (gestion) -- (739.4,1263) node[lbl]{d} -- (gestgar.east);
  \draw[dflow] (gestion) -- (740.7,1307.8) node[lbl]{d} -- (gestplaf.east);
  \draw[dflow] (gestion) -- (741.6,1363) node[lbl]{d} -- (gestinv.east);
  \draw[dflow] (gestion) -- (728.6,1504.7) node[lbl]{d} -- (recavance.east);
  \draw[dflow] (gestion) -- (753.4,1536.5) node[lbl]{d} -- (rectrans.east);
  \draw[dflow] (gestion) -- (851.3,1057.4) node[lbl]{d} -- (recup.west);
  \draw[dflow] (gestion) -- (844,1086.5) node[lbl]{d} -- (blocaff.west);
  \draw[dflow] (gestion) -- (832,1115.3) node[lbl]{d} -- (blocedit.west);
  \draw[dflow] (gestinv.north) -- (537.6,1328.2) node[lbl]{d} -- (reduc.south);
  \draw[dflow] (reduc.60) -- (679,1293) node[lbl]{c} -- (gestgar.-60);
  \draw[dflow] (gestint.east) -- (954,786) node[lbl]{c} -- (souscr.south east);

  \draw[blink] (echcontrat.east) -- (o184.west);
  \draw[blink] (redatt.east) -- (o185.west);
  \draw[blink] (rachlib.east) -- (o186.west);
  \draw[blink] (rachplan.east) -- (o187.west);
  \draw[blink] (rachtot.east) -- (o188.west);
  \draw[blink] (evtimp.east) -- (o189.west);
  \draw[blink] (nuptial.east) -- (o190.west);
  \draw[blink] (liqterme.east) -- (o191.west);
  \draw[blink] (liqavant.east) -- (o192.west);
  \draw[blink] (accman.east) -- (o193.west);
  \draw[blink] (arbdes.east) -- (o194.west);
  \draw[blink] (recprime.east) -- (o195.west);
  \draw[blink] (gestint.east) -- (o196.west);
  \draw[blink] (gestgar.east) -- (o197.west);
  \draw[blink] (gestplaf.east) -- (o198.west);
  \draw[blink] (reduc.east) -- (o199.west);
  \draw[blink] (gestinv.east) -- (o200.west);
\end{tikzpicture}
\end{document}
